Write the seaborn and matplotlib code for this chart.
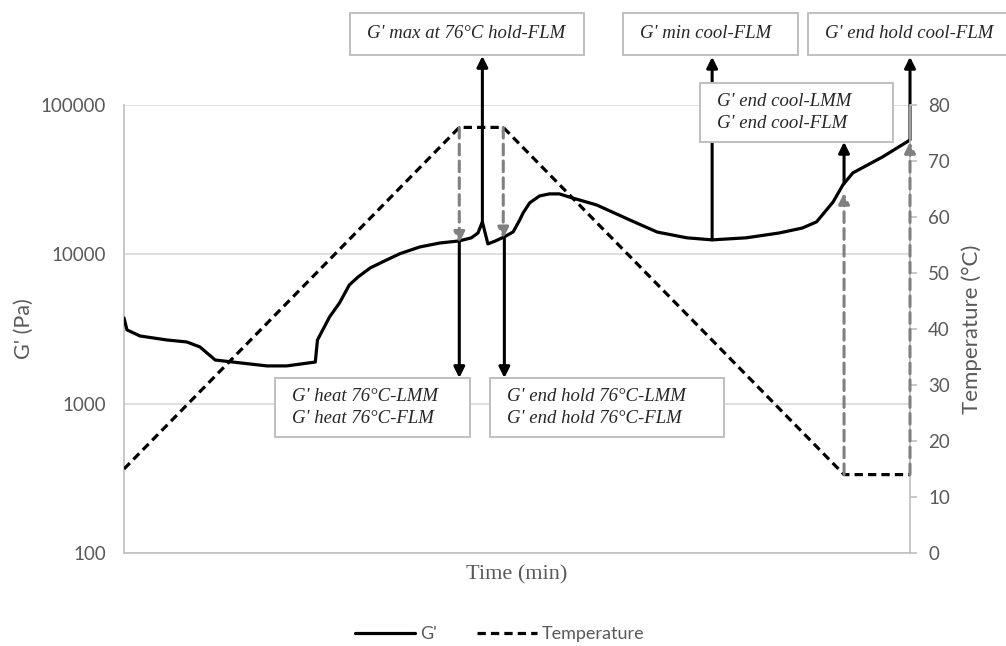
import numpy as np
import pandas as pd
import matplotlib
matplotlib.use('Agg')
import matplotlib.pyplot as plt
from matplotlib.patches import Rectangle
from matplotlib.lines import Line2D
from matplotlib.ticker import FixedLocator, NullLocator
import seaborn as sns

# === Data ===
time_g = [0, 0.27, 1.45, 3.9, 5.7, 6.9, 8.3, 9.9, 13.0, 14.8, 17.4, 17.6, 18.7, 19.6, 20.5,
          21.3, 22.4, 23.7, 25.1, 26.9, 28.7, 30.5, 31.6, 32.2, 32.6, 33.1, 33.8, 34.6, 35.4,
          36.0, 36.3, 36.9, 37.8, 38.7, 39.6, 40.5, 43.0, 46.0, 48.5, 51.2, 53.5, 56.6, 59.6,
          61.7, 63.0, 64.5, 65.4, 66.3, 69.0, 71.5]
g_prime = [3750, 3120, 2840, 2670, 2590, 2400, 1960, 1900, 1790, 1790, 1900, 2670, 3810, 4720, 6240,
           7060, 8110, 9030, 10100, 11200, 11900, 12300, 12900, 13900, 16500, 11750, 12300, 13100, 14130,
           17000, 18900, 22100, 24600, 25400, 25400, 24200, 21400, 17000, 14100, 12900, 12500, 12900, 13900,
           15000, 16500, 22400, 29200, 35100, 44900, 58300]

time_t = [0, 30.5, 34.5, 65.5, 71.5]
temp = [15, 76, 76, 14, 14]

g_ticks = [100, 1000, 10000, 100000]
t_ticks = [0, 10, 20, 30, 40, 50, 60, 70, 80]

# gray dashed arrows on the temperature profile: (time, from temp, to temp)
temp_arrows = [(30.5, 76, 55.4), (34.5, 76, 56.2), (65.5, 14, 64.3), (71.5, 14, 73.4)]
# black arrows from the G' curve to the label boxes: (time, target G')
g_arrows = [(30.5, 1486), (34.6, 1486), (32.6, 213000), (53.5, 210000), (65.5, 56600), (71.5, 210000)]

# label boxes in figure pixels: (x0, y0, x1, y1, lines)
boxes = [
    (350, 13, 584, 55, ["G' max at 76°C hold-FLM"]),
    (623, 13, 798, 55, ["G' min cool-FLM"]),
    (808, 13, 1010, 55, ["G' end hold cool-FLM"]),
    (700, 83, 893, 142, ["G' end cool-LMM", "G' end cool-FLM"]),
    (275, 378, 470, 437, ["G' heat 76°C-LMM", "G' heat 76°C-FLM"]),
    (490, 378, 724, 437, ["G' end hold 76°C-LMM", "G' end hold 76°C-FLM"]),
]

# === Plot ===
sns.set_style('white')
plt.rcParams['font.family'] = ['Lato', 'DejaVu Sans']
grey_txt = '#595959'
grey_ax = '#bfbfbf'

W, H = 1006, 646
fig = plt.figure(figsize=(W / 100, H / 100), dpi=100)
ax = fig.add_axes([124 / W, 1 - 553 / H, (910 - 124) / W, (553 - 105) / H])
ax2 = ax.twinx()

df_g = pd.DataFrame({'time': time_g, 'G': g_prime})
df_t = pd.DataFrame({'time': time_t, 'T': temp})

sns.lineplot(data=df_g, x='time', y='G', ax=ax, color='black', lw=2.3, zorder=3)
sns.lineplot(data=df_t, x='time', y='T', ax=ax2, color='black', lw=2.3,
             linestyle=(0, (2.6, 1.6)), zorder=3)

ax.set_yscale('log')
ax.set_ylim(100, 100000)
ax.set_xlim(0, 71.5)
ax.yaxis.set_major_locator(FixedLocator(g_ticks))
ax.yaxis.set_minor_locator(NullLocator())
ax.set_yticklabels([str(v) for v in g_ticks])
ax.set_xticks([])
ax.yaxis.grid(True, color='#d9d9d9', lw=1.2)
ax.tick_params(axis='y', length=0, pad=13, labelsize=13.5, labelcolor=grey_txt)
ax.set_ylabel("G' (Pa)", fontsize=15.5, color=grey_txt, labelpad=5)
ax.set_xlabel('Time (min)', family='Liberation Serif', fontsize=16, color=grey_txt, labelpad=9)

ax2.set_ylim(0, 80)
ax2.set_yticks(t_ticks)
ax2.tick_params(axis='y', length=5, width=1.2, color=grey_ax, direction='out', pad=8,
                labelsize=13.5, labelcolor=grey_txt)
ax2.set_ylabel('Temperature (°C)', fontsize=16, color=grey_txt, labelpad=8)

for s in ['top', 'right']:
    ax.spines[s].set_visible(False)
for s in ['top', 'left', 'bottom']:
    ax2.spines[s].set_visible(False)
for s in ['left', 'bottom']:
    ax.spines[s].set_color(grey_ax)
    ax.spines[s].set_linewidth(1.2)
ax2.spines['right'].set_color(grey_ax)
ax2.spines['right'].set_linewidth(1.2)

# arrows
for t, t0, t1 in temp_arrows:
    ax2.annotate('', xy=(t, t1), xytext=(t, t0), annotation_clip=False,
                 arrowprops=dict(arrowstyle='-|>', color='#808080', lw=2.2, linestyle=(0, (3.5, 2)),
                                 mutation_scale=16, shrinkA=0, shrinkB=0))
log_g = np.log10(g_prime)
for t, g1 in g_arrows:
    g0 = 10 ** np.interp(t, time_g, log_g)
    ax.annotate('', xy=(t, g1), xytext=(t, g0), annotation_clip=False,
                arrowprops=dict(arrowstyle='-|>', color='black', lw=2.2,
                                mutation_scale=16, shrinkA=0, shrinkB=0))

# label boxes
for x0, y0, x1, y1, lines in boxes:
    fig.add_artist(Rectangle((x0 / W, 1 - y1 / H), (x1 - x0) / W, (y1 - y0) / H,
                             transform=fig.transFigure, facecolor='white',
                             edgecolor=grey_ax, lw=1.4, zorder=5))
    yc = (y0 + y1) / 2
    n = len(lines)
    for i, s in enumerate(lines):
        yy = yc + (i - (n - 1) / 2) * 22
        fig.text((x0 + 17) / W, 1 - yy / H, s, ha='left', va='center',
                 family='Liberation Serif', style='italic', fontsize=13.5,
                 color='#262626', zorder=6)

# legend
handles = [Line2D([], [], color='black', lw=2.3),
           Line2D([], [], color='black', lw=2.3, linestyle=(0, (2.6, 1.6)))]
fig.legend(handles, ["G'", 'Temperature'], loc='center', bbox_to_anchor=(500 / W, 1 - 634 / H),
           ncol=2, frameon=False, handlelength=3.3, handletextpad=0.3, columnspacing=2.2,
           fontsize=13, labelcolor=grey_txt)

fig.savefig('out.png', dpi=100)
